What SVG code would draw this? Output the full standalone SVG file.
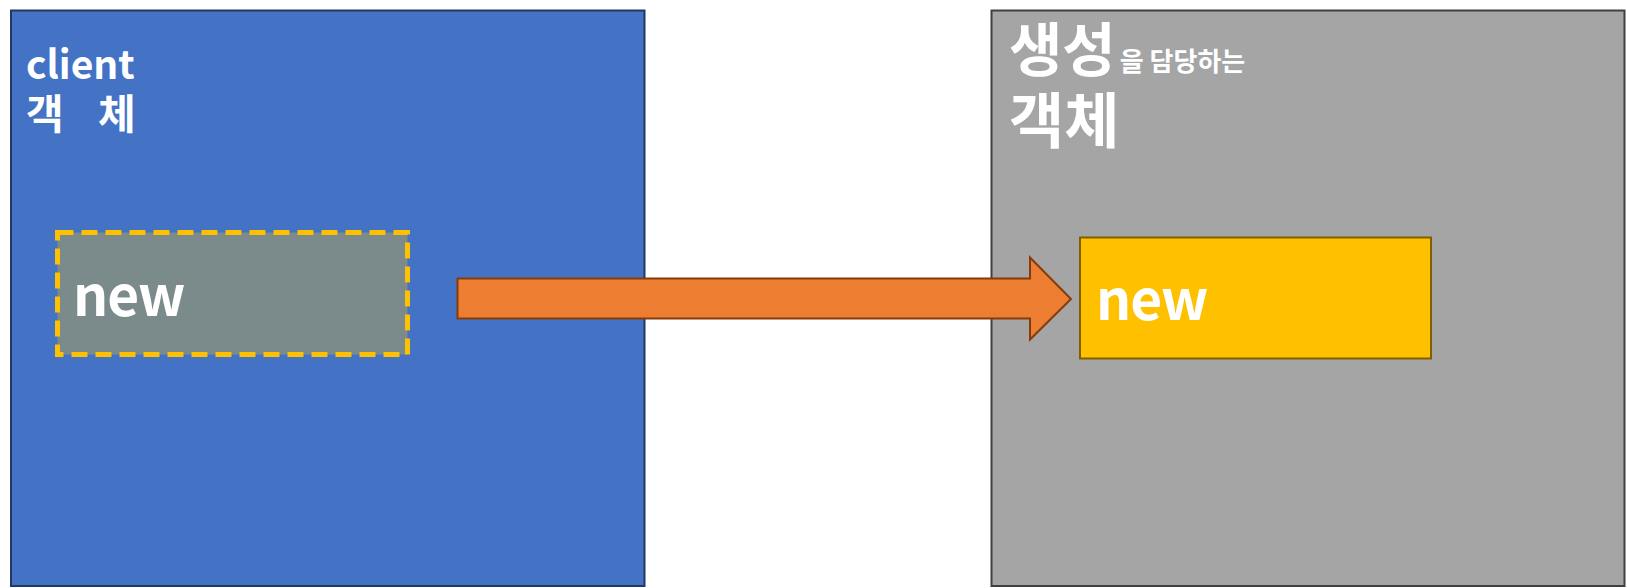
<svg xmlns="http://www.w3.org/2000/svg" width="1627" height="588" viewBox="0 0 1627 588">
<style>
.t{font-family:"Noto Sans CJK KR","Open Sans",sans-serif;font-weight:bold;fill:#FFFFFF}
</style>
<rect width="1627" height="588" fill="#FFFFFF"/>
<g id="client">
<rect x="11" y="10.5" width="633.5" height="575.5" fill="#4472C4" stroke="#1F3864" stroke-width="2"/>
<text class="t" x="26" y="79" font-size="39">client</text>
<text class="t" y="129" font-size="41"><tspan x="26">객</tspan><tspan x="98">체</tspan></text>
</g>
<g id="client-new">
<rect x="57.5" y="232.5" width="350" height="122" fill="#7B8A8B" stroke="#FFC000" stroke-width="5" stroke-dasharray="16 8"/>
<text class="t" x="73" y="316" font-size="55" letter-spacing="-1">new</text>
</g>
<g id="factory">
<rect x="991.5" y="10.5" width="633" height="575.5" fill="#A5A5A5" stroke="#404040" stroke-width="2"/>
<text class="t" x="1009" y="71" font-size="58">생성<tspan font-size="26" dx="4">을 담당하는</tspan></text>
<text class="t" x="1009" y="143" font-size="60">객체</text>
</g>
<g id="factory-new">
<rect x="1080" y="237.5" width="351" height="121" fill="#FFC000" stroke="#7F6000" stroke-width="2"/>
<text class="t" x="1096" y="320" font-size="55" letter-spacing="-1">new</text>
</g>
<g id="connectors">
<path d="M457.5,278.5 H1030 V257.5 L1071,299 L1030,339.5 V318.5 H457.5 Z" fill="#ED7D31" stroke="#843C0C" stroke-width="2" stroke-linejoin="miter"/>
</g>
</svg>
